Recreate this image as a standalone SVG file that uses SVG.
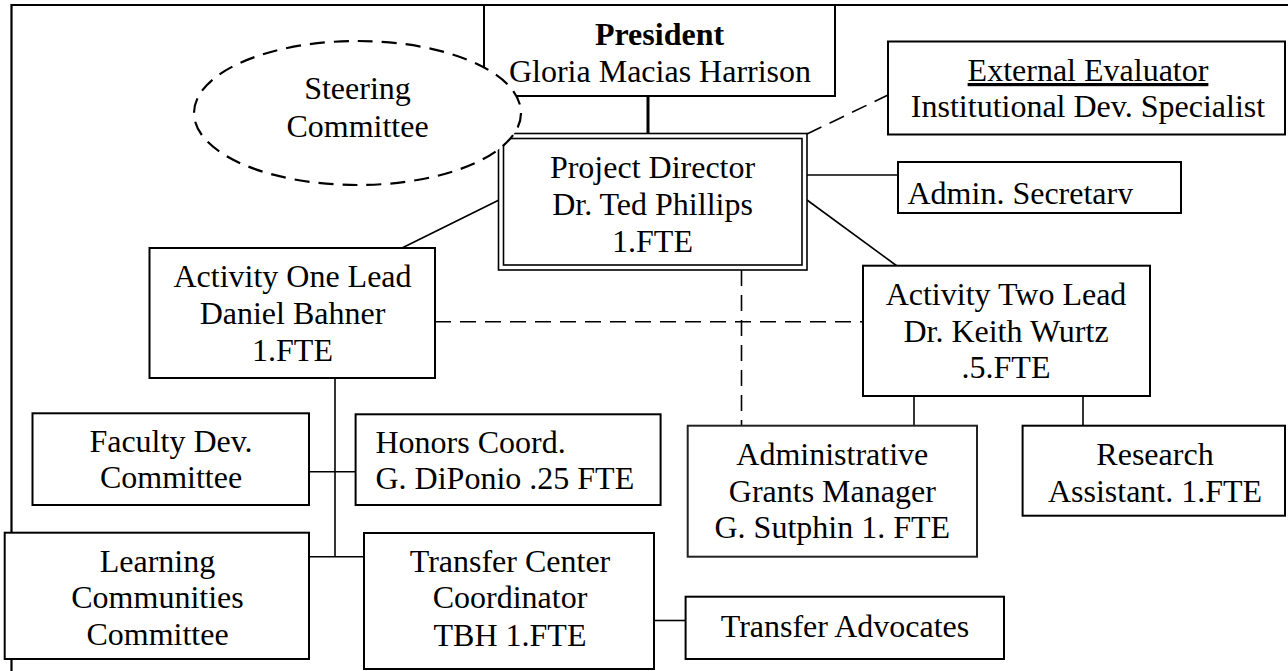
<svg xmlns="http://www.w3.org/2000/svg" width="1288" height="671" viewBox="0 0 1288 671">
<style>
.box{fill:#fff;stroke:#000;stroke-width:2}
.t{font-family:"Liberation Serif","Times New Roman",serif;font-size:32px;fill:#000;text-anchor:middle}
.tl{font-family:"Liberation Serif","Times New Roman",serif;font-size:32px;fill:#000;text-anchor:start}
.ln{stroke:#000;stroke-width:1.6;fill:none}
.dash{stroke:#000;stroke-width:1.6;fill:none;stroke-dasharray:16 9}
</style>
<defs>
<clipPath id="clipSec"><rect x="898" y="160" width="284" height="44"/></clipPath>
</defs>
<rect width="1288" height="671" fill="#fff"/>
<path d="M11.5 671 V5 H1288" fill="none" stroke="#000" stroke-width="2.2"/>
<g id="connectors">
<line x1="648" y1="96" x2="648" y2="134" stroke="#000" stroke-width="3"/>
<line class="dash" x1="807" y1="134" x2="888" y2="95"/>
<line class="ln" x1="807" y1="175" x2="898" y2="175"/>
<line class="ln" x1="499" y1="200" x2="402" y2="248"/>
<line class="ln" x1="807" y1="200" x2="897" y2="266"/>
<line class="dash" x1="435" y1="321.7" x2="863" y2="321.7"/>
<line class="dash" x1="741.5" y1="270" x2="741.5" y2="426"/>
<line class="ln" x1="914" y1="396" x2="914" y2="426"/>
<line class="ln" x1="1083" y1="396" x2="1083" y2="426"/>
<line class="ln" x1="335" y1="378" x2="335" y2="557"/>
<line class="ln" x1="309" y1="471.7" x2="356" y2="471.7"/>
<line class="ln" x1="309" y1="556.7" x2="364" y2="556.7"/>
<line class="ln" x1="654" y1="620.5" x2="686" y2="620.5"/>
</g>
<g id="president">
<rect class="box" x="484" y="5" width="351" height="91"/>
<text class="t" x="659.5" y="45" font-weight="bold">President</text>
<text class="t" x="660" y="81.7">Gloria Macias Harrison</text>
</g>
<g id="director">
<rect x="498.5" y="133.5" width="308.5" height="136.5" fill="#fff" stroke="#000" stroke-width="1.6"/>
<rect x="503.5" y="138.5" width="298.5" height="126.5" fill="none" stroke="#000" stroke-width="1.6"/>
<text class="t" x="652.5" y="178">Project Director</text>
<text class="t" x="652.5" y="215">Dr. Ted Phillips</text>
<text class="t" x="652.5" y="252">1.FTE</text>
</g>
<g id="steering">
<ellipse cx="357.5" cy="113" rx="163.5" ry="72" fill="#fff" stroke="#000" stroke-width="2.2" stroke-dasharray="15 9"/>
<text class="t" x="357.5" y="99">Steering</text>
<text class="t" x="357.5" y="136.7">Committee</text>
</g>
<g id="external">
<rect class="box" x="888" y="41.5" width="397" height="93"/>
<text class="t" x="1088" y="81" text-decoration="underline">External Evaluator</text>
<text class="t" x="1088" y="117.3">Institutional Dev. Specialist</text>
</g>
<g id="secretary">
<rect class="box" x="898" y="162" width="283" height="51"/>
<text class="tl" x="907.5" y="203.5" clip-path="url(#clipSec)">Admin. Secretary</text>
</g>
<g id="activity-one">
<rect class="box" x="149.5" y="248" width="285.5" height="130"/>
<text class="t" x="292.5" y="287.3">Activity One Lead</text>
<text class="t" x="292.5" y="324">Daniel Bahner</text>
<text class="t" x="292.5" y="360.7">1.FTE</text>
</g>
<g id="activity-two">
<rect class="box" x="863" y="265.7" width="287" height="130.3"/>
<text class="t" x="1006" y="305">Activity Two Lead</text>
<text class="t" x="1006" y="341.7">Dr. Keith Wurtz</text>
<text class="t" x="1006" y="378.3">.5.FTE</text>
</g>
<g id="faculty-dev">
<rect class="box" x="32.5" y="413.3" width="276.5" height="91.7"/>
<text class="t" x="171" y="451.7">Faculty Dev.</text>
<text class="t" x="171" y="488.3">Committee</text>
</g>
<g id="honors">
<rect class="box" x="355.6" y="414.3" width="305" height="90.7"/>
<text class="tl" x="375.5" y="453.3">Honors Coord.</text>
<text class="tl" x="375.5" y="489.3">G. DiPonio .25 FTE</text>
</g>
<g id="grants-manager">
<rect x="687.7" y="425.7" width="289.3" height="131" fill="#fff" stroke="#222" stroke-width="2"/>
<text class="t" x="832.3" y="465">Administrative</text>
<text class="t" x="832.3" y="501.7">Grants Manager</text>
<text class="t" x="832.3" y="538.3">G. Sutphin 1. FTE</text>
</g>
<g id="research">
<rect class="box" x="1022.6" y="425.7" width="262.4" height="90"/>
<text class="t" x="1155" y="465">Research</text>
<text class="t" x="1155" y="501.7">Assistant. 1.FTE</text>
</g>
<g id="learning">
<rect class="box" x="4.7" y="532.7" width="304.3" height="126.3"/>
<text class="t" x="157.5" y="571.7">Learning</text>
<text class="t" x="157.5" y="608.3">Communities</text>
<text class="t" x="157.5" y="645">Committee</text>
</g>
<g id="transfer-center">
<rect class="box" x="364" y="533" width="290" height="136"/>
<text class="t" x="510" y="571.7">Transfer Center</text>
<text class="t" x="510" y="608.3">Coordinator</text>
<text class="t" x="510" y="646">TBH 1.FTE</text>
</g>
<g id="transfer-advocates">
<rect class="box" x="685.6" y="596.7" width="318.4" height="62.3"/>
<text class="t" x="845" y="636.7">Transfer Advocates</text>
</g>
</svg>
